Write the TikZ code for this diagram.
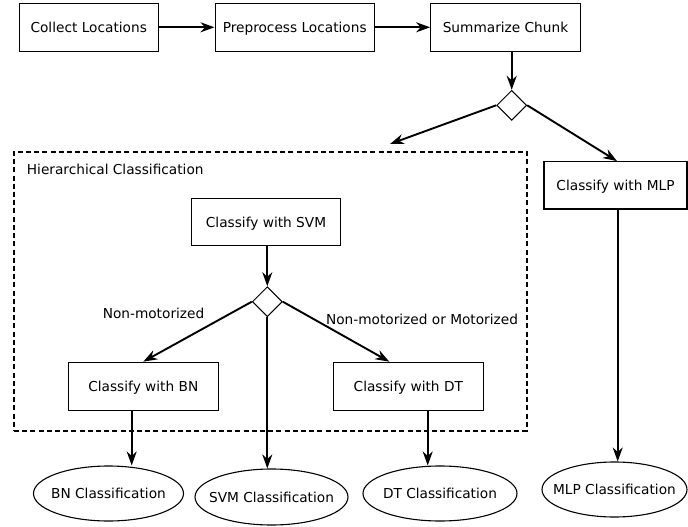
\documentclass[tikz,border=0pt]{standalone}
\usepackage{fontspec}
\setmainfont{DejaVu Sans}
\usetikzlibrary{shapes.geometric,arrows.meta}

% zero-width text so the ellipse size comes from minimum width/height only
\newcommand{\flatlabel}[1]{\makebox[0pt]{#1}}

\tikzset{
  lbl/.style={font=\fontsize{13.7}{16}\selectfont, text height=10pt, text depth=0pt, inner sep=0pt},
  stepbox/.style={lbl, draw, line width=1.1pt, minimum height=48pt},
  decision/.style={draw, diamond, line width=1pt, minimum width=30pt, minimum height=30pt, inner sep=0pt},
  result/.style={lbl, draw, ellipse, line width=1.1pt, minimum height=55pt},
  group/.style={draw, line width=2pt, dash pattern=on 5pt off 3.2pt, inner sep=0pt},
  arr/.style={line width=1.9pt, -{Stealth[length=14pt, width=10pt, inset=4.5pt]}},
}

\begin{document}
\begin{tikzpicture}[x=1pt, y=-1pt]
  \useasboundingbox[fill=white] (0,0) rectangle (688,527);

  % pipeline
  \node[stepbox, minimum width=138.7pt] (coll) at (88.7,27.3) {Collect Locations};
  \node[stepbox, minimum width=159.3pt] (pre)  at (294.7,27.3) {Preprocess Locations};
  \node[stepbox, minimum width=149.6pt] (sum)  at (505.5,27.3) {Summarize Chunk};
  \node[decision] (d1) at (511.7,105.3) {};

  % hierarchical branch
  \node[group, minimum width=512.7pt, minimum height=279pt] (hier) at (270.35,291.2) {};
  \node[lbl, anchor=west] (htitle) at (26.7,169) {Hierarchical Classification};
  \coordinate (hin) at (390,144);
  \node[stepbox, minimum width=149pt, minimum height=47.5pt] (svm) at (266,222) {Classify with SVM};
  \node[decision] (d2) at (267.3,301.7) {};
  \node[stepbox, minimum width=150pt] (bn) at (143.3,386.2) {Classify with BN};
  \node[stepbox, minimum width=150pt] (dt) at (408.3,386.2) {Classify with DT};
  \node[lbl] (lnm)  at (153.5,313) {Non-motorized};
  \node[lbl] (lnmm) at (422,319.3) {Non-motorized or Motorized};

  % MLP branch
  \node[stepbox, minimum width=143pt, minimum height=47.3pt] (mlp) at (615.5,185.3) {Classify with MLP};

  % results
  \node[result, minimum width=150pt] (bnc)  at (108.5,493.5) {\flatlabel{BN Classification}};
  \node[result, minimum width=153pt, minimum height=56pt] (svmc) at (271.5,497) {\flatlabel{SVM Classification}};
  \node[result, minimum width=154pt] (dtc)  at (440,493.5) {\flatlabel{DT Classification}};
  \node[result, minimum width=145pt] (mlpc) at (614.5,489.5) {\flatlabel{MLP Classification}};

  % connectors
  \draw[arr] (coll.east) -- (pre.west);
  \draw[arr] (pre.east) -- (sum.west);
  \draw[arr] (d1.north |- sum.south) -- (d1.north);
  \draw[arr] (d1.west) -- (hin);
  \draw[arr] (d1.east) -- ([xshift=1.5pt]mlp.north);
  \draw[arr] (d2.north |- svm.south) -- (d2.north);
  \draw[arr] (d2.west) -- (bn.north);
  \draw[arr] (d2.east) -- ([xshift=-19pt]dt.north);
  \draw[arr] (d2.south) -- (d2.south |- svmc.north);
  \draw[arr] ([xshift=-11.6pt]bn.south) -- ([xshift=-11.6pt]bn.south |- bnc.north);
  \draw[arr] ([xshift=19.4pt]dt.south) -- ([xshift=19.4pt]dt.south |- dtc.north);
  \draw[arr] ([xshift=2.2pt]mlp.south) -- ([xshift=2.2pt]mlp.south |- mlpc.north);
\end{tikzpicture}
\end{document}
